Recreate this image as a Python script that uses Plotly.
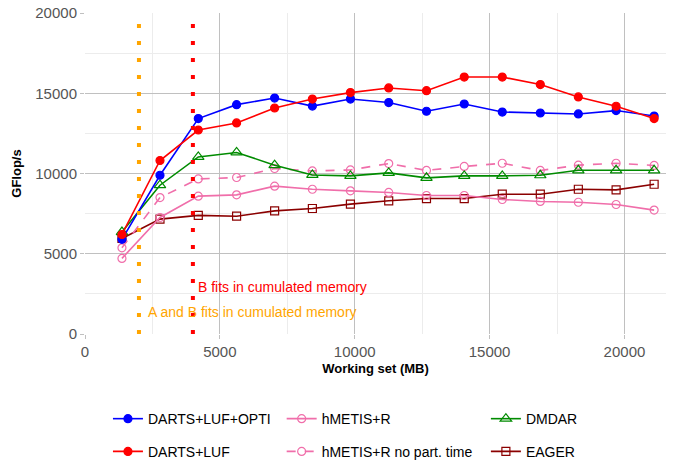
import plotly.graph_objects as go

working_set = [1370, 2780, 4200, 5620, 7030, 8430, 9840, 11260, 12660, 14060,
               15470, 16880, 18290, 19690, 21100]

darts_luf_opti = [5900, 9890, 13420, 14290, 14700, 14200, 14640, 14420, 13880, 14330,
                  13830, 13770, 13710, 13920, 13580]
darts_luf = [6200, 10810, 12710, 13150, 14080, 14640, 15040, 15330, 15160, 16010,
             16010, 15540, 14770, 14190, 13420]
hmetis_r = [4710, 7260, 8590, 8670, 9210, 9020, 8920, 8820, 8630, 8630,
            8380, 8260, 8210, 8070, 7720]
hmetis_r_nopart = [5370, 8500, 9660, 9750, 10310, 10160, 10220, 10620, 10190, 10440,
                   10640, 10190, 10520, 10640, 10500]
dmdar = [6350, 9270, 11030, 11310, 10520, 9910, 9850, 10040, 9730, 9850,
         9850, 9890, 10200, 10200, 10200]
eager = [5950, 7160, 7390, 7340, 7670, 7820, 8090, 8300, 8440, 8440,
         8710, 8710, 9020, 8980, 9330]

memory_limits = [2000, 4000]
memory_labels = ["A and B fits in cumulated memory", "B fits in cumulated memory"]
memory_colors = ["#ffa500", "#ff0000"]

FONT = "Liberation Sans, Arial, sans-serif"

series = [
    # name, values, color, symbol, dash, legend id
    ("DARTS+LUF+OPTI", darts_luf_opti, "#0000ff", "circle", "solid", "legend"),
    ("DARTS+LUF", darts_luf, "#ff0000", "circle", "solid", "legend2"),
    ("hMETIS+R", hmetis_r, "#f06eaa", "circle-open", "solid", "legend3"),
    ("hMETIS+R no part. time", hmetis_r_nopart, "#f06eaa", "circle-open", "dash", "legend4"),
    ("DMDAR", dmdar, "#008b00", "triangle-up-open", "solid", "legend5"),
    ("EAGER", eager, "#8b0000", "square-open", "solid", "legend6"),
]

fig = go.Figure()

# memory limit dotted lines
for xv, col in zip(memory_limits, memory_colors):
    fig.add_shape(type="line", xref="x", yref="y", x0=xv, x1=xv, y0=19310, y1=0,
                  line=dict(color=col, width=4, dash="4px,13px"), layer="above")

draw_order = [5, 2, 3, 4, 0, 1]
for i in draw_order:
    name, vals, col, sym, dash, leg = series[i]
    msize = 10 if sym.startswith("triangle") else 8
    fig.add_trace(go.Scatter(
        x=working_set, y=vals, name=name, mode="lines+markers",
        line=dict(color=col, width=1.6, dash=dash),
        marker=dict(color=col, symbol=sym, size=msize, line=dict(color=col, width=1.2)),
        legend=leg, showlegend=True,
    ))

for xv, lab, col, yv, xoff in zip(memory_limits, memory_labels, memory_colors, [1350, 2940], [2250, 4120]):
    fig.add_annotation(x=xoff, y=yv, text=lab, showarrow=False, xanchor="left", yanchor="middle",
                       font=dict(family=FONT, size=14, color=col))

# legend placement: 3 columns x 2 rows
col_x = [0.0395, 0.3385, 0.69]
row_y = [-0.265, -0.367]
legend_pos = {
    "legend": (col_x[0], row_y[0]),
    "legend2": (col_x[0], row_y[1]),
    "legend3": (col_x[1], row_y[0]),
    "legend4": (col_x[1], row_y[1]),
    "legend5": (col_x[2], row_y[0]),
    "legend6": (col_x[2], row_y[1]),
}
legend_layout = {}
for k, (lx, ly) in legend_pos.items():
    legend_layout[k] = dict(x=lx, y=ly, xanchor="left", yanchor="middle",
                            bgcolor="rgba(0,0,0,0)", borderwidth=0, visible=True,
                            font=dict(family=FONT, size=14, color="#000000"))

axis_common = dict(
    showline=False, zeroline=False, automargin=False,
    gridcolor="#c0c0c0", gridwidth=1.4,
    ticks="outside", ticklen=4, tickcolor="#c0c0c0",
    tickformat="d", ticklabeloverflow="allow",
    tickfont=dict(family=FONT, size=15, color="#555555"),
)

fig.update_layout(
    width=677, height=466,
    showlegend=True,
    margin=dict(l=85, r=11, t=13, b=132, autoexpand=False),
    paper_bgcolor="white", plot_bgcolor="white",
    font=dict(family=FONT),
    xaxis=dict(range=[0, 21540], dtick=5000, tick0=0,
               minor=dict(dtick=2500, showgrid=True, gridcolor="#ececec", gridwidth=1),
               title=dict(text="<b>Working set (MB)</b>", font=dict(family=FONT, size=13, color="#000"),
                          standoff=4),
               **axis_common),
    yaxis=dict(range=[0, 20000], dtick=5000, tick0=0,
               minor=dict(dtick=2500, showgrid=True, gridcolor="#ececec", gridwidth=1),
               title=dict(text="<b>GFlop/s</b>", font=dict(family=FONT, size=13, color="#000"),
                          standoff=10),
               **axis_common),
    **legend_layout,
)

# remove the default page margin so the figure fills the window from its top-left corner
fig.write_html("out.html",
               config={"displayModeBar": False},
               post_script="document.body.style.margin='0';document.body.style.overflow='hidden';")
